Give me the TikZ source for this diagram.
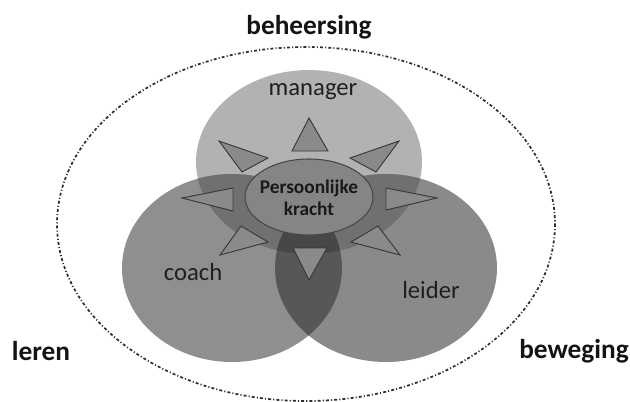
\documentclass[tikz,border=0pt]{standalone}
\usepackage{fontspec}
\usetikzlibrary{shapes.geometric}
\setmainfont{Carlito}
\begin{document}
\begin{tikzpicture}[x=0.75pt,y=-0.75pt,
  ring/.style={draw=black!82, line width=1.3pt, dash pattern=on 2.2pt off 1.6pt on 0.8pt off 1.6pt},
  spike/.style={fill=black!46, draw=black!78, line width=0.7pt, line join=miter},
  core/.style={ellipse, fill=black!48, draw=black!72, line width=0.8pt},
  rolelabel/.style={text=black!88, font=\fontsize{18.5}{20}\selectfont},
  fieldlabel/.style={text=black!92, font=\bfseries\fontsize{20.5}{22}\selectfont}]
\useasboundingbox (0,0) rectangle (630,401);

% outer dotted boundary
\draw[ring] (306,224) ellipse [x radius=249, y radius=177];

% the three role ellipses
\def\mgr{(309,162) ellipse [x radius=113, y radius=92]}
\def\cch{(232,268) ellipse [x radius=110, y radius=94]}
\def\ldr{(386,268) ellipse [x radius=111, y radius=94]}
\fill[black!30] \mgr;
\fill[black!44] \cch;
\fill[black!46] \ldr;
\begin{scope}
  \clip \mgr;
  \fill[black!56] \cch;
  \fill[black!56] \ldr;
\end{scope}
\begin{scope}
  \clip \cch;
  \fill[black!66] \ldr;
\end{scope}
\begin{scope}
  \clip \mgr;
  \clip \cch;
  \fill[black!72] \ldr;
\end{scope}

% rays around the core
\draw[spike] (309,118) -- (292,151) -- (328,151) -- cycle;
\draw[spike] (219,141) -- (268,158) -- (242,172) -- cycle;
\draw[spike] (399,141) -- (350,158) -- (376,172) -- cycle;
\draw[spike] (182,198) -- (233,188) -- (233,211) -- cycle;
\draw[spike] (437,198) -- (386,188) -- (386,210) -- cycle;
\draw[spike] (220,255) -- (268,242) -- (241,226) -- cycle;
\draw[spike] (400,255) -- (351,242) -- (378,226) -- cycle;
\draw[spike] (309,280) -- (293,248) -- (327,248) -- cycle;

% core
\node[core, minimum width=96pt, minimum height=57pt, inner sep=0pt] (kracht) at (309,197) {};
\node[text=black!90, font=\bfseries\fontsize{14.5}{16.5}\selectfont, align=center] (kl) at (309,198) {Persoonlijke\\kracht};

% role labels
\node[rolelabel] (manager) at (313,92) {manager};
\node[rolelabel] (coach) at (193,272) {coach};
\node[rolelabel] (leider) at (431,290) {leider};

% field labels
\node[fieldlabel] (beheersing) at (309,27) {beheersing};
\node[fieldlabel] (leren) at (41,351) {leren};
\node[fieldlabel] (beweging) at (574,351) {beweging};
\end{tikzpicture}
\end{document}
